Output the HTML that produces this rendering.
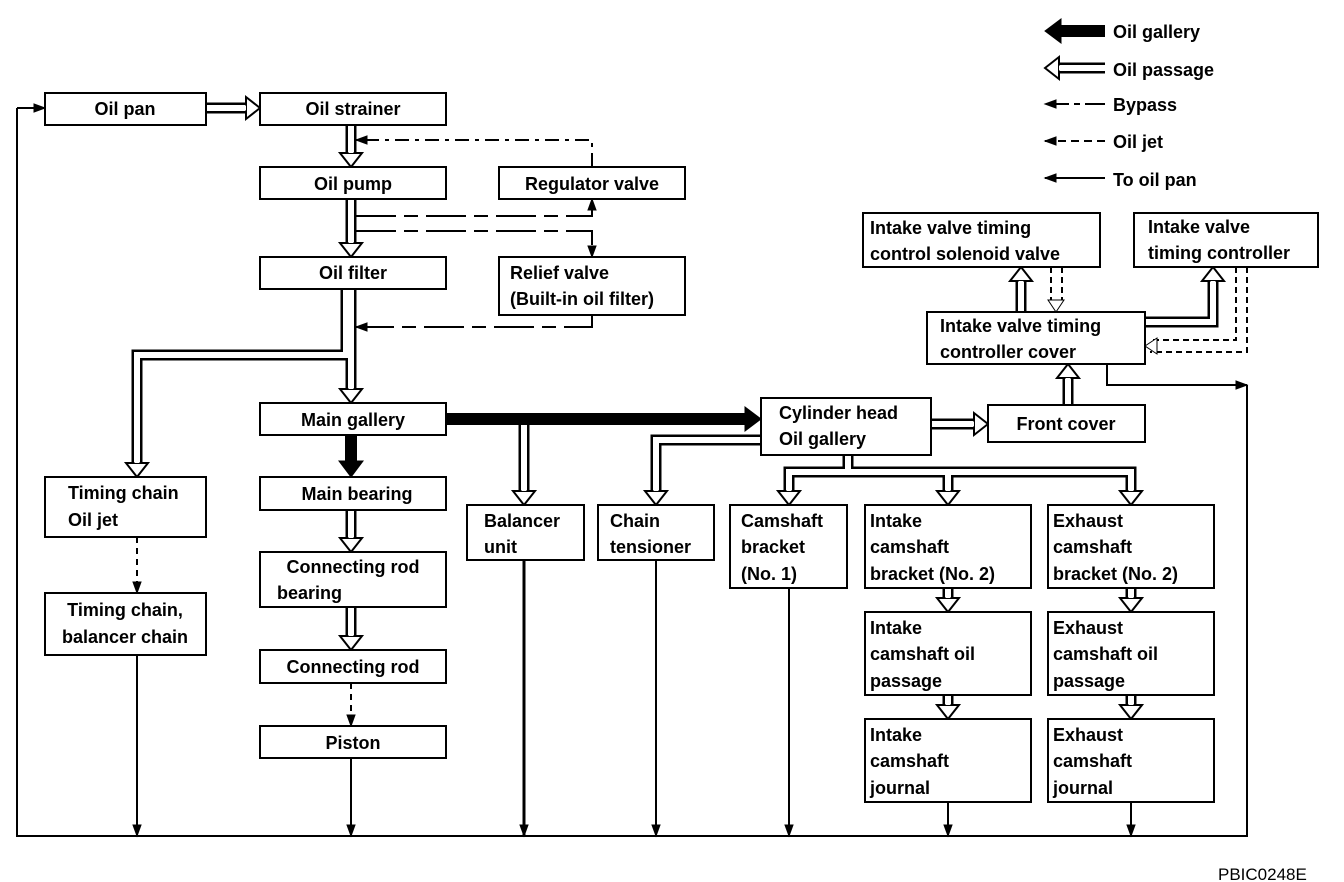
<!DOCTYPE html>
<html><head><meta charset="utf-8"><style>
body{margin:0;background:#fff}
svg{display:block}
text{font-family:"Liberation Sans",Arial,sans-serif;font-weight:bold;font-size:18px;fill:#000}
</style></head><body>
<svg id="s" width="1344" height="882" viewBox="0 0 1344 882" xmlns="http://www.w3.org/2000/svg">
<g id="lines" fill="none" stroke="#000" stroke-width="2"></g>
<g id="hb"></g><g id="hw"></g><g id="fg"></g>
<g fill="#fff" stroke="#000" stroke-width="2">
<rect x="45" y="93" width="161" height="32"/>
<rect x="260" y="93" width="186" height="32"/>
<rect x="260" y="167" width="186" height="32"/>
<rect x="499" y="167" width="186" height="32"/>
<rect x="260" y="257" width="186" height="32"/>
<rect x="499" y="257" width="186" height="58"/>
<rect x="260" y="403" width="186" height="32"/>
<rect x="45" y="477" width="161" height="60"/>
<rect x="45" y="593" width="161" height="62"/>
<rect x="260" y="477" width="186" height="33"/>
<rect x="260" y="552" width="186" height="55"/>
<rect x="260" y="650" width="186" height="33"/>
<rect x="260" y="726" width="186" height="32"/>
<rect x="467" y="505" width="117" height="55"/>
<rect x="598" y="505" width="116" height="55"/>
<rect x="730" y="505" width="117" height="83"/>
<rect x="865" y="505" width="166" height="83"/>
<rect x="1048" y="505" width="166" height="83"/>
<rect x="865" y="612" width="166" height="83"/>
<rect x="1048" y="612" width="166" height="83"/>
<rect x="865" y="719" width="166" height="83"/>
<rect x="1048" y="719" width="166" height="83"/>
<rect x="761" y="398" width="170" height="57"/>
<rect x="988" y="405" width="157" height="37"/>
<rect x="927" y="312" width="218" height="52"/>
<rect x="863" y="213" width="237" height="54"/>
<rect x="1134" y="213" width="184" height="54"/>
</g>
<g>
<text x="125" y="115" text-anchor="middle">Oil pan</text>
<text x="353" y="115" text-anchor="middle">Oil strainer</text>
<text x="353" y="190" text-anchor="middle">Oil pump</text>
<text x="592" y="190" text-anchor="middle">Regulator valve</text>
<text x="353" y="279" text-anchor="middle">Oil filter</text>
<text x="510" y="279">Relief valve</text>
<text x="510" y="305">(Built-in oil filter)</text>
<text x="353" y="426" text-anchor="middle">Main gallery</text>
<text x="68" y="499">Timing chain</text>
<text x="68" y="526">Oil jet</text>
<text x="125" y="616" text-anchor="middle">Timing chain,</text>
<text x="125" y="643" text-anchor="middle">balancer chain</text>
<text x="357" y="500" text-anchor="middle">Main bearing</text>
<text x="353" y="573" text-anchor="middle">Connecting rod</text>
<text x="277" y="599">bearing</text>
<text x="353" y="673" text-anchor="middle">Connecting rod</text>
<text x="353" y="749" text-anchor="middle">Piston</text>
<text x="484" y="527">Balancer</text>
<text x="484" y="553">unit</text>
<text x="610" y="527">Chain</text>
<text x="610" y="553">tensioner</text>
<text x="741" y="527">Camshaft</text>
<text x="741" y="553">bracket</text>
<text x="741" y="580">(No. 1)</text>
<text x="870" y="527">Intake</text>
<text x="870" y="553">camshaft</text>
<text x="870" y="580">bracket (No. 2)</text>
<text x="1053" y="527">Exhaust</text>
<text x="1053" y="553">camshaft</text>
<text x="1053" y="580">bracket (No. 2)</text>
<text x="870" y="634">Intake</text>
<text x="870" y="660">camshaft oil</text>
<text x="870" y="687">passage</text>
<text x="1053" y="634">Exhaust</text>
<text x="1053" y="660">camshaft oil</text>
<text x="1053" y="687">passage</text>
<text x="870" y="741">Intake</text>
<text x="870" y="767">camshaft</text>
<text x="870" y="794">journal</text>
<text x="1053" y="741">Exhaust</text>
<text x="1053" y="767">camshaft</text>
<text x="1053" y="794">journal</text>
<text x="779" y="419">Cylinder head</text>
<text x="779" y="445">Oil gallery</text>
<text x="1066" y="430" text-anchor="middle">Front cover</text>
<text x="940" y="332">Intake valve timing</text>
<text x="940" y="358">controller cover</text>
<text x="870" y="234">Intake valve timing</text>
<text x="870" y="260">control solenoid valve</text>
<text x="1148" y="233">Intake valve</text>
<text x="1148" y="259">timing controller</text>
<text x="1113" y="38">Oil gallery</text>
<text x="1113" y="76">Oil passage</text>
<text x="1113" y="111">Bypass</text>
<text x="1113" y="148">Oil jet</text>
<text x="1113" y="186">To oil pan</text>
<text x="1218" y="880" style="font-weight:normal;font-size:17px">PBIC0248E</text>
</g>
</svg>
<script>
const NS="http://www.w3.org/2000/svg";
const L=document.getElementById('lines'),F=document.getElementById('fg'),HB=document.getElementById('hb'),HW=document.getElementById('hw');
function el(p,t,a){const e=document.createElementNS(NS,t);for(const k in a)e.setAttribute(k,a[k]);p.appendChild(e);return e;}
function line(pts,dash,w){el(L,'polyline',{points:pts.map(p=>p.join(',')).join(' '),'stroke-dasharray':dash||'none','stroke-width':w||2});}
function dirOf(a,b){const dx=b[0]-a[0],dy=b[1]-a[1],l=Math.hypot(dx,dy);return[dx/l,dy/l];}
function head(tip,d,len,hw,fill,par){const[x,y]=tip,[ux,uy]=d,px=-uy,py=ux;const bx=x-ux*len,by=y-uy*len;
 el(par||F,'polygon',{points:`${x},${y} ${bx+px*hw},${by+py*hw} ${bx-px*hw},${by-py*hw}`,fill:fill,stroke:'#000','stroke-width':1});}
function thin(pts,dash){const n=pts.length,d=dirOf(pts[n-2],pts[n-1]);line(pts,dash);head(pts[n-1],d,11,4,'#000');}
function pipe(pts){const s=pts.map(p=>p.join(',')).join(' ');
 el(HB,'polyline',{points:s,fill:'none',stroke:'#000','stroke-width':11,'stroke-linejoin':'miter'});
 el(HW,'polyline',{points:s,fill:'none',stroke:'#fff','stroke-width':6,'stroke-linejoin':'miter'});}
function hollow(pts){const n=pts.length,d=dirOf(pts[n-2],pts[n-1]);const t=pts[n-1];const e=[t[0]-d[0]*14,t[1]-d[1]*14];
 pipe(pts.slice(0,n-1).concat([e]));
 const[x,y]=t,[ux,uy]=d,px=-uy,py=ux,bx=x-ux*14,by=y-uy*14;
 el(F,'polygon',{points:`${x},${y} ${bx+px*11},${by+py*11} ${bx+px*5},${by+py*5} ${bx-px*5},${by-py*5} ${bx-px*11},${by-py*11}`,fill:'#fff',stroke:'#000','stroke-width':2,'stroke-linejoin':'miter'});
 el(F,'line',{x1:bx+px*2.5-ux*2,y1:by+py*2.5-uy*2,x2:bx-px*2.5-ux*2,y2:by-py*2.5-uy*2,stroke:'#fff','stroke-width':4});}
function solid(pts){const n=pts.length,d=dirOf(pts[n-2],pts[n-1]);const t=pts[n-1];const e=[t[0]-d[0]*16,t[1]-d[1]*16];
 el(F,'polyline',{points:pts.slice(0,n-1).concat([e]).map(p=>p.join(',')).join(' '),fill:'none',stroke:'#000','stroke-width':12});
 head(t,d,16,12,'#000');}
line([[1247,385],[1247,836],[17,836],[17,108]]);
thin([[17,108],[45,108]]);
[[137,655],[351,758],[656,560],[789,588],[948,802],[1131,802]].forEach(([x,y])=>thin([[x,y],[x,836]]));
el(L,'line',{x1:524,y1:560,x2:524,y2:836,'stroke-width':3});head([524,836],[0,1],11,4,'#000',F);
thin([[1107,364],[1107,385],[1247,385]]);
thin([[592,167],[592,140],[356,140]],'14,6,4,6');
thin([[356,216],[592,216],[592,199]],'40,8,14,8');
thin([[356,231],[592,231],[592,257]],'40,8,14,8');
thin([[592,315],[592,327],[356,327]],'40,8,14,8');
thin([[137,537],[137,593]],'6,5');
thin([[351,683],[351,726]],'6,5');
line([[1051,267],[1051,300]],'6,4');line([[1062,267],[1062,300]],'6,4');
head([1056,312],[0,1],12,8,'#fff');
line([[1236,267],[1236,340],[1150,340]],'6,4');line([[1247,267],[1247,352],[1150,352]],'6,4');
head([1145,346],[-1,0],12,8,'#fff');
hollow([[206,108],[260,108]]);
hollow([[351,125],[351,167]]);
hollow([[351,199],[351,257]]);
hollow([[346,289],[346,355],[137,355],[137,477]]);
hollow([[351,289],[351,403]]);
hollow([[351,510],[351,552]]);
hollow([[351,607],[351,650]]);
hollow([[524,425],[524,505]]);
hollow([[761,440],[656,440],[656,505]]);
hollow([[931,424],[988,424]]);
pipe([[848,455],[848,472]]);
hollow([[848,472],[789,472],[789,505]]);
hollow([[848,472],[1131,472],[1131,505]]);
hollow([[948,472],[948,505]]);
hollow([[1068,405],[1068,364]]);
hollow([[1021,312],[1021,267]]);
hollow([[1145,322],[1213,322],[1213,267]]);
[948,1131].forEach(x=>{hollow([[x,588],[x,612]]);hollow([[x,695],[x,719]]);});
solid([[446,419],[761,419]]);
solid([[351,435],[351,477]]);
solid([[1105,31],[1045,31]]);
hollow([[1105,68],[1045,68]]);
thin([[1105,104],[1045,104]],'20,5,6,5');
thin([[1105,141],[1045,141]],'8,5');
thin([[1105,178],[1045,178]]);
</script>
</body></html>
